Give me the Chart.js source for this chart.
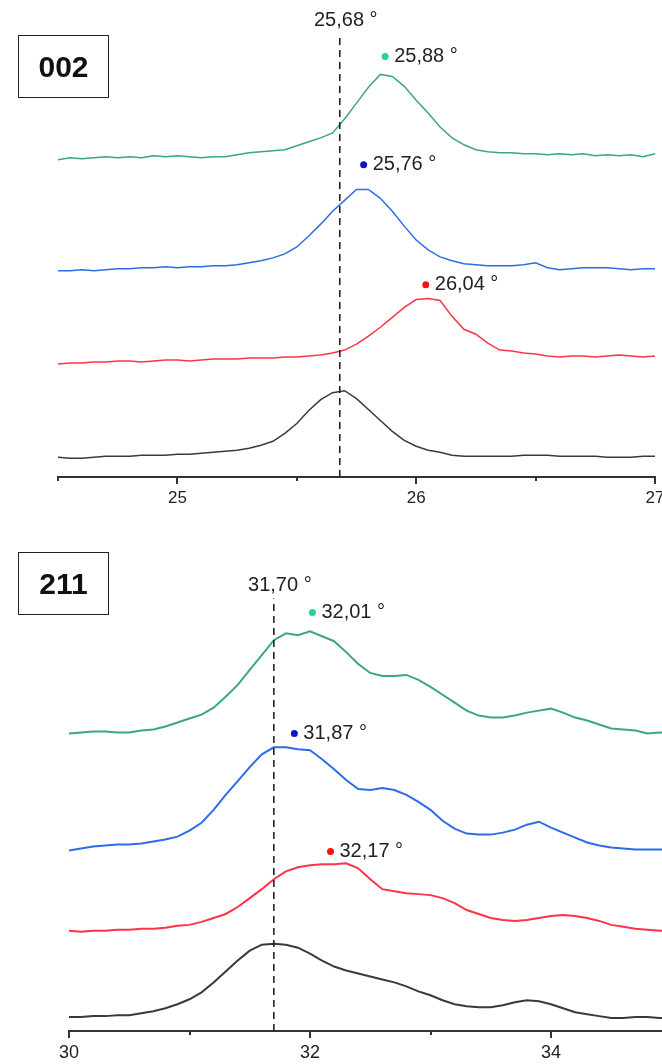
<!DOCTYPE html>
<html>
<head>
<meta charset="utf-8">
<script src="https://cdn.jsdelivr.net/npm/chart.js@4.4.1/dist/chart.umd.min.js"></script>
<style>
  html, body { margin: 0; padding: 0; background: #fff; overflow: hidden; }
  #page { position: relative; width: 662px; height: 1064px; overflow: hidden; }
  canvas { position: absolute; left: 0; }
  #chart002 { top: 0; }
  #chart211 { top: 540px; }
  .plane {
    position: absolute;
    left: 18px;
    width: 89px;
    border: 1.5px solid #222;
    font: bold 30px "Liberation Sans", Arial, sans-serif;
    text-align: center;
    color: #111;
  }
</style>
</head>
<body>
<div id="page">
  <canvas id="chart002" width="680" height="520"></canvas>
  <canvas id="chart211" width="700" height="524"></canvas>
  <div class="plane" style="top:35px;height:61px;line-height:61px">002</div>
  <div class="plane" style="top:552px;height:61px;line-height:61px">211</div>
</div>
<script>
// 002 reflection, 2theta (deg) and offset intensities (a.u.)
const angles002 = [
  24.50, 24.55, 24.60, 24.65, 24.70, 24.75, 24.80, 24.85, 24.90, 24.95,
  25.00, 25.05, 25.10, 25.15, 25.20, 25.25, 25.30, 25.35, 25.40, 25.45,
  25.50, 25.55, 25.60, 25.65, 25.70, 25.75, 25.80, 25.85, 25.90, 25.95,
  26.00, 26.05, 26.10, 26.15, 26.20, 26.25, 26.30, 26.35, 26.40, 26.45,
  26.50, 26.55, 26.60, 26.65, 26.70, 26.75, 26.80, 26.85, 26.90, 26.95, 27.00
];
const green002 = [
  320, 322, 321, 322, 323, 322, 323, 322, 324, 323,
  324, 323, 322, 323, 323, 325, 327, 328, 329, 330,
  334, 338, 342, 347, 361, 377, 393, 406, 404, 394,
  380, 367, 353, 342, 335, 330, 328, 327, 327, 326,
  326, 325, 326, 325, 326, 324, 325, 324, 325, 323, 326
];
const blue002 = [
  208, 208, 209, 208, 209, 210, 210, 211, 211, 212,
  211, 212, 212, 213, 213, 214, 216, 218, 221, 225,
  232, 243, 255, 268, 279, 290, 290, 281, 268, 253,
  239, 229, 222, 218, 215, 214, 213, 213, 213, 214,
  216, 211, 209, 210, 211, 211, 211, 210, 209, 210, 210
];
const red002 = [
  114, 115, 115, 116, 116, 117, 117, 116, 117, 118,
  118, 117, 118, 119, 119, 119, 120, 120, 120, 121,
  121, 122, 123, 125, 128, 134, 142, 151, 161, 171,
  179, 180, 178, 162, 149, 144, 135, 128, 127, 125,
  124, 122, 121, 122, 122, 121, 122, 123, 122, 121, 122
];
const black002 = [
  20, 19, 19, 20, 21, 21, 21, 22, 22, 22,
  23, 23, 24, 25, 26, 27, 29, 32, 36, 44,
  54, 67, 78, 85, 87, 79, 68, 57, 46, 37,
  31, 27, 25, 22, 21, 21, 21, 21, 21, 22,
  22, 22, 21, 21, 21, 21, 20, 20, 20, 21, 21
];
const peakAngles002 = [25.87, 25.78, 26.04];
const peakLevels002 = [424, 315, 194];
const peakLabels002 = ["25,88 °", "25,76 °", "26,04 °"];
const refAngle002 = 25.68;
const refTop002 = 447;
const refLabel002 = "25,68 °";
const tickLabels002 = [25, 26, 27];

// 211 reflection
const angles211 = [
  30.0, 30.1, 30.2, 30.3, 30.4, 30.5, 30.6, 30.7, 30.8, 30.9,
  31.0, 31.1, 31.2, 31.3, 31.4, 31.5, 31.6, 31.7, 31.8, 31.9,
  32.0, 32.1, 32.2, 32.3, 32.4, 32.5, 32.6, 32.7, 32.8, 32.9,
  33.0, 33.1, 33.2, 33.3, 33.4, 33.5, 33.6, 33.7, 33.8, 33.9,
  34.0, 34.1, 34.2, 34.3, 34.4, 34.5, 34.6, 34.7, 34.8, 34.9, 35.0
];
const green211 = [
  300, 301, 302, 302, 301, 301, 303, 304, 307, 311,
  315, 319, 326, 337, 349, 364, 379, 394, 401, 399,
  403, 398, 393, 382, 370, 361, 358, 358, 359, 354,
  347, 339, 331, 323, 318, 316, 316, 318, 321, 323,
  325, 321, 316, 313, 309, 305, 304, 303, 300, 301, 301
];
const blue211 = [
  182, 184, 186, 187, 188, 188, 189, 191, 193, 196,
  202, 210, 223, 238, 252, 266, 279, 286, 286, 284,
  283, 274, 264, 253, 244, 243, 245, 243, 238, 231,
  223, 212, 204, 199, 198, 198, 200, 203, 208, 211,
  205, 200, 195, 190, 187, 185, 184, 183, 183, 183, 183
];
const red211 = [
  101, 100, 101, 101, 102, 102, 103, 103, 104, 106,
  107, 110, 114, 118, 125, 134, 143, 153, 161, 165,
  167, 168, 168, 169, 164, 153, 143, 141, 139, 138,
  137, 134, 129, 122, 118, 114, 112, 111, 112, 114,
  116, 117, 116, 114, 111, 107, 105, 103, 102, 101, 101
];
const black211 = [
  14, 14, 15, 15, 16, 16, 18, 20, 23, 27,
  32, 39, 49, 60, 71, 81, 87, 88, 87, 84,
  78, 71, 65, 61, 58, 55, 52, 49, 45, 40,
  36, 31, 27, 25, 24, 24, 26, 29, 31, 30,
  27, 23, 19, 17, 15, 13, 13, 14, 14, 13, 13
];
const peakAngles211 = [32.02, 31.87, 32.17];
const peakLevels211 = [422, 300, 181];
const peakLabels211 = ["32,01 °", "31,87 °", "32,17 °"];
const refAngle211 = 31.70;
const refTop211 = 436;
const refLabel211 = "31,70 °";
const tickLabels211 = [30, 32, 34];

const traceColors = ["#3aa878", "#2b6de8", "#ff3347", "#3a3a3a"];
const dotColors = ["#25d49a", "#1010cc", "#ff1010"];
const textFont = '"Liberation Sans", Arial, sans-serif';

drawPanel("chart002", {
  angles: angles002,
  series: [green002, blue002, red002, black002],
  peakAngles: peakAngles002,
  peakLevels: peakLevels002,
  peakLabels: peakLabels002,
  refAngle: refAngle002,
  refTop: refTop002,
  refLabel: refLabel002,
  tickLabels: tickLabels002,
  min: 24.5,
  max: 27,
  step: 0.5,
  yMax: 477,
  padLeft: 58,
  padRight: 25,
  axisHeight: 43,
  lineWidth: 1.5,
  tickFontSize: 17
});

drawPanel("chart211", {
  angles: angles211,
  series: [green211, blue211, red211, black211],
  peakAngles: peakAngles211,
  peakLevels: peakLevels211,
  peakLabels: peakLabels211,
  refAngle: refAngle211,
  refTop: refTop211,
  refLabel: refLabel211,
  tickLabels: tickLabels211,
  min: 30,
  max: 35,
  step: 1,
  yMax: 491,
  padLeft: 69,
  padRight: 28.5,
  axisHeight: 33,
  lineWidth: 2,
  tickFontSize: 18
});

function drawPanel(canvasId, panel) {
  const ctx = document.getElementById(canvasId).getContext("2d");

  const traces = panel.series.map((values, index) => ({
    type: "line",
    data: panel.angles.map((angle, i) => ({ x: angle, y: values[i] })),
    borderColor: traceColors[index],
    borderWidth: panel.lineWidth,
    pointRadius: 0,
    tension: 0,
    fill: false
  }));

  const refLine = {
    type: "line",
    data: [
      { x: panel.refAngle, y: 0 },
      { x: panel.refAngle, y: panel.refTop }
    ],
    borderColor: "#222",
    borderWidth: 1.6,
    borderDash: [7, 5],
    pointRadius: 0
  };

  const dots = {
    type: "scatter",
    data: panel.peakAngles.map((angle, i) => ({ x: angle, y: panel.peakLevels[i] })),
    backgroundColor: dotColors,
    borderWidth: 0,
    pointRadius: 3.5
  };

  new Chart(ctx, {
    type: "line",
    data: {
      datasets: [refLine, ...traces, dots]
    },
    options: {
      responsive: false,
      devicePixelRatio: 1,
      animation: false,
      events: [],
      layout: {
        padding: { left: panel.padLeft, right: panel.padRight, top: 0, bottom: 0 }
      },
      plugins: {
        legend: { display: false },
        tooltip: { enabled: false }
      },
      scales: {
        x: {
          type: "linear",
          min: panel.min,
          max: panel.max,
          afterFit: function (scale) {
            scale.height = panel.axisHeight;
          },
          border: { display: true, color: "#333", width: 2 },
          grid: {
            drawOnChartArea: false,
            drawTicks: true,
            tickLength: 7,
            lineWidth: 2,
            color: function (context) {
              // minor ticks are drawn shorter by the plugin below
              const value = context.tick ? context.tick.value : null;
              return panel.tickLabels.includes(value) ? "#333" : "rgba(0,0,0,0)";
            }
          },
          ticks: {
            stepSize: panel.step,
            autoSkip: false,
            maxRotation: 0,
            padding: 4,
            color: "#222",
            font: { family: textFont, size: panel.tickFontSize },
            callback: function (value) {
              return panel.tickLabels.includes(value) ? String(value) : "";
            }
          }
        },
        y: {
          display: false,
          min: 0,
          max: panel.yMax
        }
      }
    },
    plugins: [createLabelPlugin(panel)]
  });
}

function createLabelPlugin(panel) {
  return {
    id: "peakLabels",
    afterDraw(chart) {
      const c = chart.ctx;
      const x = chart.scales.x;
      const y = chart.scales.y;
      c.save();

      // short minor ticks
      c.strokeStyle = "#333";
      c.lineWidth = 2;
      x.ticks.forEach((tick) => {
        if (panel.tickLabels.includes(tick.value)) {
          return;
        }
        const px = Math.round(x.getPixelForValue(tick.value));
        c.beginPath();
        c.moveTo(px, x.top);
        c.lineTo(px, x.top + 4);
        c.stroke();
      });

      c.fillStyle = "#222";
      c.font = `20px ${textFont}`;
      c.textBaseline = "middle";
      c.textAlign = "left";
      panel.peakAngles.forEach((angle, i) => {
        c.fillText(panel.peakLabels[i], x.getPixelForValue(angle) + 9, y.getPixelForValue(panel.peakLevels[i]));
      });
      c.textAlign = "center";
      c.fillText(panel.refLabel, x.getPixelForValue(panel.refAngle) + 6, y.getPixelForValue(panel.refTop) - 13);
      c.restore();
    }
  };
}
</script>
</body>
</html>
